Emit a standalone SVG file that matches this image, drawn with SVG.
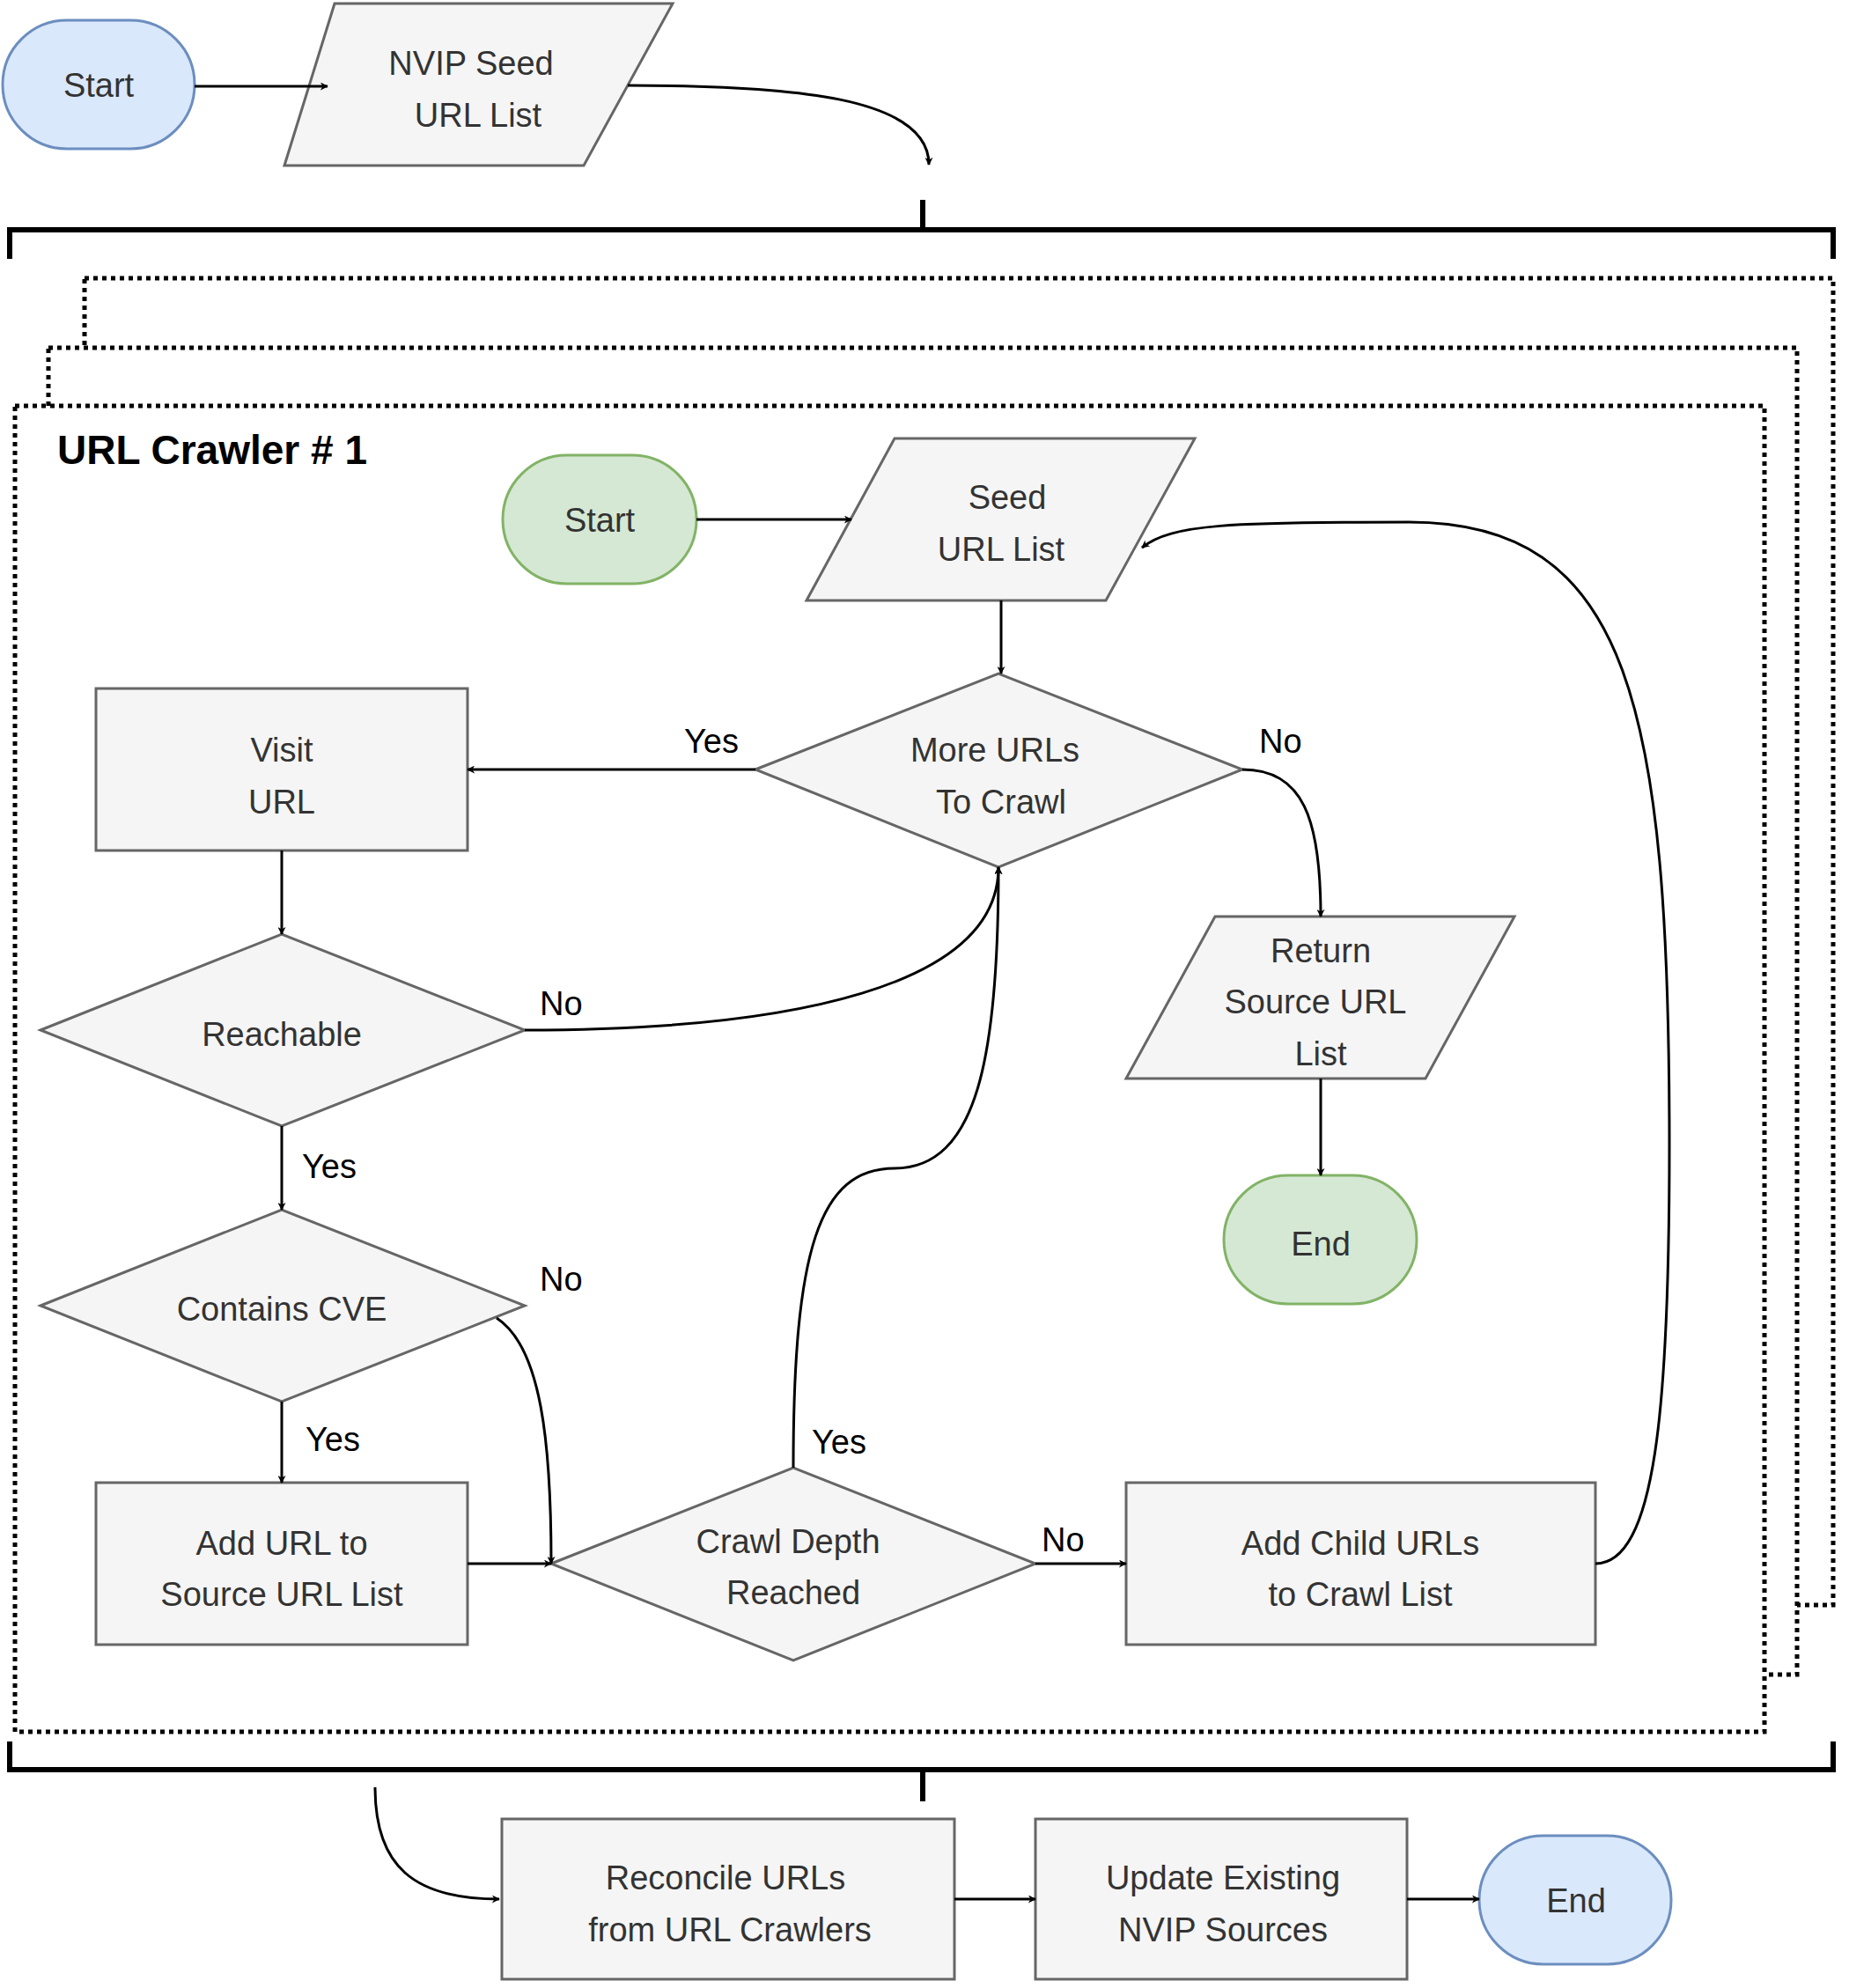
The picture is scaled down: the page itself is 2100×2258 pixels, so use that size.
<svg xmlns="http://www.w3.org/2000/svg" width="2100" height="2258" viewBox="0 0 2100 2258">
<defs>
<style>
.g{fill:#f5f5f5;stroke:#666;stroke-width:3}
.gr{fill:#d5e8d4;stroke:#82b366;stroke-width:3}
.bl{fill:#dae8fc;stroke:#6c8ebf;stroke-width:3}
.t{font-family:"Liberation Sans",Arial,sans-serif;font-size:38px;fill:#333;text-anchor:middle}
.lb{font-family:"Liberation Sans",Arial,sans-serif;font-size:38px;fill:#000}
.c{fill:none;stroke:#000;stroke-width:3}
.dot{fill:#fff;stroke:#000;stroke-width:5;stroke-dasharray:5,5}
.br{fill:none;stroke:#000;stroke-width:6}
</style>
<marker id="a" viewBox="0 0 10 10" refX="9" refY="5" markerWidth="9" markerHeight="9" markerUnits="userSpaceOnUse" orient="auto"><path d="M0,0L10,5L0,10L3,5Z" fill="#000"/></marker>
</defs>
<g id="containers">
<rect class="dot" x="96" y="316" width="1986" height="1507"/>
<rect class="dot" x="55" y="395" width="1986" height="1507"/>
<rect class="dot" x="17" y="461" width="1987" height="1506"/>
<path class="br" d="M11,294V261H2082V294M1048,227V261"/>
<path class="br" d="M11,1978V2010H2082V1978M1048,2010V2046"/>
<text x="65" y="527" font-family="Liberation Sans,Arial,sans-serif" font-size="46" font-weight="bold">URL Crawler # 1</text>
</g>
<g id="start0"><rect class="bl" x="3" y="23" width="218" height="146" rx="73"/><text class="t" x="112" y="110">Start</text></g>
<g id="nvip"><path class="g" d="M323,188L380,4H764L663,188Z"/><text class="t" x="535" y="85">NVIP Seed</text><text class="t" x="543" y="144">URL List</text></g>
<g id="start1"><rect class="gr" x="571" y="517" width="220" height="146" rx="73"/><text class="t" x="681" y="604">Start</text></g>
<g id="seed"><path class="g" d="M916,682L1016,498H1357L1256,682Z"/><text class="t" x="1144" y="578">Seed</text><text class="t" x="1137" y="637">URL List</text></g>
<g id="more"><path class="g" d="M858,874L1134,765L1411,874L1134,985Z"/><text class="t" x="1130" y="865">More URLs</text><text class="t" x="1137" y="924">To Crawl</text></g>
<g id="visit"><rect class="g" x="109" y="782" width="422" height="184"/><text class="t" x="320" y="865">Visit</text><text class="t" x="320" y="924">URL</text></g>
<g id="ret"><path class="g" d="M1279,1225L1380,1041H1720L1619,1225Z"/><text class="t" x="1500" y="1093">Return</text><text class="t" x="1494" y="1151">Source URL</text><text class="t" x="1500" y="1210">List</text></g>
<g id="end1"><rect class="gr" x="1390" y="1335" width="219" height="146" rx="73"/><text class="t" x="1500" y="1426">End</text></g>
<g id="reach"><path class="g" d="M46,1170L320,1061L596,1170L320,1279Z"/><text class="t" x="320" y="1188">Reachable</text></g>
<g id="cve"><path class="g" d="M46,1483L320,1374L596,1483L320,1592Z"/><text class="t" x="320" y="1500">Contains CVE</text></g>
<g id="addurl"><rect class="g" x="109" y="1684" width="422" height="184"/><text class="t" x="320" y="1766">Add URL to</text><text class="t" x="320" y="1824">Source URL List</text></g>
<g id="depth"><path class="g" d="M626,1776L901,1667L1176,1776L901,1886Z"/><text class="t" x="895" y="1764">Crawl Depth</text><text class="t" x="901" y="1822">Reached</text></g>
<g id="child"><rect class="g" x="1279" y="1684" width="533" height="184"/><text class="t" x="1545" y="1766">Add Child URLs</text><text class="t" x="1545" y="1824">to Crawl List</text></g>
<g id="recon"><rect class="g" x="570" y="2066" width="514" height="182"/><text class="t" x="824" y="2146">Reconcile URLs</text><text class="t" x="829" y="2205">from URL Crawlers</text></g>
<g id="update"><rect class="g" x="1176" y="2066" width="422" height="182"/><text class="t" x="1389" y="2146">Update Existing</text><text class="t" x="1389" y="2205">NVIP Sources</text></g>
<g id="end0"><rect class="bl" x="1680" y="2085" width="218" height="146" rx="73"/><text class="t" x="1790" y="2172">End</text></g>
<g id="connectors">
<path class="c" marker-end="url(#a)" d="M221,98H372"/>
<path class="c" marker-end="url(#a)" d="M713,97C900,97 1055,110 1055,187"/>
<path class="c" marker-end="url(#a)" d="M791,590H967"/>
<path class="c" marker-end="url(#a)" d="M1137,682V765"/>
<path class="c" marker-end="url(#a)" d="M858,874H531"/>
<path class="c" marker-end="url(#a)" d="M1411,874C1480,874 1500,930 1500,1041"/>
<path class="c" marker-end="url(#a)" d="M1500,1225V1335"/>
<path class="c" marker-end="url(#a)" d="M320,966V1061"/>
<path class="c" marker-end="url(#a)" d="M596,1170C900,1170 1134,1120 1134,985"/>
<path class="c" marker-end="url(#a)" d="M320,1279V1374"/>
<path class="c" marker-end="url(#a)" d="M564,1497C615,1530 626,1640 626,1776"/>
<path class="c" marker-end="url(#a)" d="M320,1592V1684"/>
<path class="c" marker-end="url(#a)" d="M531,1776H626"/>
<path class="c" marker-end="url(#a)" d="M901,1667C901,1420 930,1327 1016,1327C1110,1327 1134,1200 1134,985"/>
<path class="c" marker-end="url(#a)" d="M1176,1776H1279"/>
<path class="c" marker-end="url(#a)" d="M1812,1776C1880,1776 1896,1600 1896,1300C1896,800 1850,593 1600,593C1400,593 1330,595 1297,622"/>
<path class="c" marker-end="url(#a)" d="M426,2030C426,2120 470,2157 567,2157"/>
<path class="c" marker-end="url(#a)" d="M1084,2157H1176"/>
<path class="c" marker-end="url(#a)" d="M1598,2157H1680"/>
<text class="lb" x="777" y="855">Yes</text>
<text class="lb" x="1430" y="855">No</text>
<text class="lb" x="613" y="1153">No</text>
<text class="lb" x="343" y="1338">Yes</text>
<text class="lb" x="613" y="1466">No</text>
<text class="lb" x="347" y="1648">Yes</text>
<text class="lb" x="922" y="1651">Yes</text>
<text class="lb" x="1183" y="1762">No</text>
</g>
</svg>
